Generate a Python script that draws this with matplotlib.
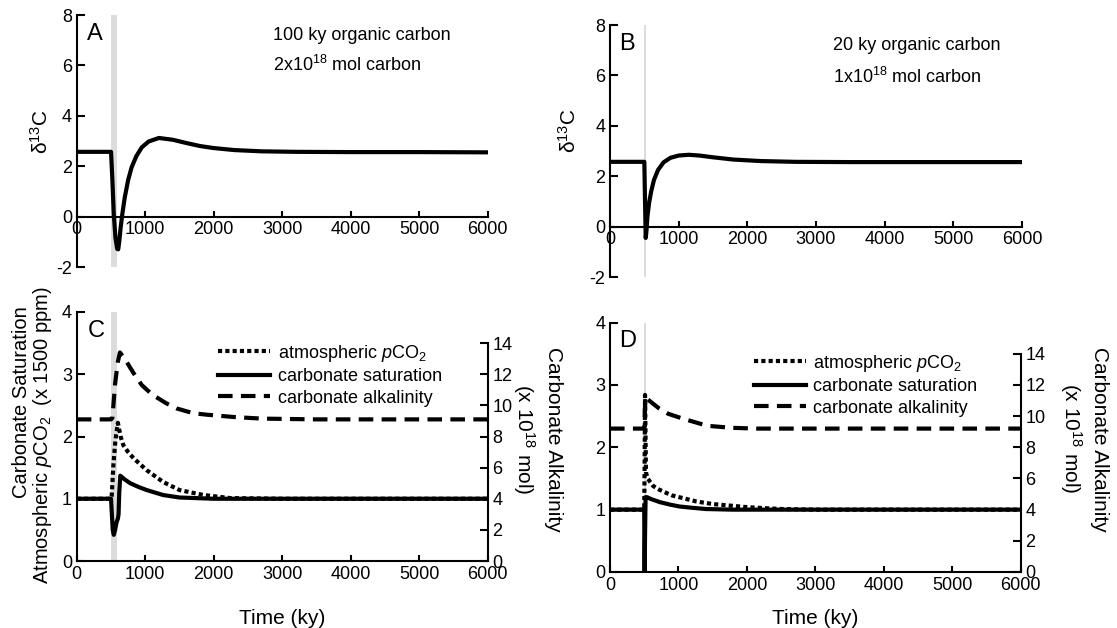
## Carbon isotope excursion and carbonate chemistry response, panels A-D

import numpy as np
import matplotlib
matplotlib.use('Agg')
import matplotlib.pyplot as plt

plt.rcParams['font.family'] = ['Liberation Sans', 'DejaVu Sans']
plt.rcParams['mathtext.fontset'] = 'custom'
plt.rcParams['mathtext.rm'] = 'Liberation Sans'
plt.rcParams['mathtext.it'] = 'Liberation Sans:italic'
plt.rcParams['mathtext.bf'] = 'Liberation Sans:bold'
plt.rcParams['axes.unicode_minus'] = False

# Data (time in ky)

# A: 100 ky organic carbon pulse, d13C
tA = [0, 500, 520, 540, 565, 590, 605, 620, 640, 665, 700, 750, 800, 870, 950,
      1050, 1200, 1400, 1600, 1800, 2000, 2300, 2700, 3200, 4000, 5000, 6000]
d13cA = [2.57, 2.57, 1.45, 0.1, -0.85, -1.28, -1.3, -1.0, -0.45, 0.1, 0.75, 1.45, 1.95, 2.4, 2.75,
         2.98, 3.12, 3.05, 2.92, 2.8, 2.72, 2.64, 2.59, 2.57, 2.56, 2.56, 2.55]

# B: 20 ky organic carbon pulse, d13C
tB = [0, 500, 510, 520, 530, 545, 570, 600, 640, 700, 780, 880, 1000, 1150,
      1300, 1500, 1800, 2200, 2700, 3500, 4500, 6000]
d13cB = [2.57, 2.57, 1.0, -0.45, -0.2, 0.4, 0.95, 1.4, 1.85, 2.25, 2.55, 2.73, 2.82, 2.85,
         2.82, 2.75, 2.66, 2.6, 2.57, 2.56, 2.56, 2.56]

# C: pCO2 (x 1500 ppm), carbonate saturation, alkalinity (x 1e18 mol)
tC_pco2 = [0, 500, 510, 535, 565, 600, 640, 680, 750, 830, 1020, 1260, 1500, 1850, 2250, 3000, 6000]
pco2C = [1.0, 1.0, 1.05, 1.55, 1.95, 2.22, 2.0, 1.86, 1.75, 1.65, 1.46, 1.27, 1.14, 1.06, 1.01, 1.0, 1.0]
tC_sat = [0, 500, 510, 525, 540, 560, 580, 600, 610, 620, 635, 700, 780, 900, 1020, 1260, 1500, 2000, 3000, 6000]
satC = [1.0, 1.0, 0.8, 0.5, 0.42, 0.5, 0.62, 0.68, 0.75, 1.1, 1.37, 1.31, 1.25, 1.19, 1.14, 1.06, 1.02, 1.0, 1.0, 1.0]
tC_alk = [0, 500, 520, 560, 600, 630, 700, 825, 950, 1100, 1300, 1460, 1700, 1900, 2300, 2700, 3500, 6000]
alkC = [9.1, 9.1, 9.2, 11.4, 12.8, 13.4, 13.0, 12.1, 11.3, 10.7, 10.15, 9.8, 9.5, 9.4, 9.25, 9.15, 9.1, 9.1]

# D: same for the 20 ky pulse
tD_pco2 = [0, 500, 505, 512, 518, 525, 550, 630, 720, 900, 1085, 1265, 1500, 1700, 2000, 2500, 3000, 6000]
pco2D = [1.0, 1.0, 1.6, 2.84, 2.3, 1.6, 1.5, 1.38, 1.32, 1.23, 1.18, 1.13, 1.09, 1.07, 1.04, 1.01, 1.0, 1.0]
tD_sat = [0, 500, 503, 506, 512, 520, 540, 600, 730, 880, 1020, 1200, 1400, 1800, 3000, 6000]
satD = [1.0, 1.0, 0.3, 0.0, 0.6, 1.2, 1.2, 1.17, 1.12, 1.08, 1.05, 1.03, 1.01, 1.0, 1.0, 1.0]
tD_alk = [0, 500, 510, 520, 600, 715, 850, 1070, 1250, 1420, 1780, 2140, 3000, 6000]
alkD = [9.2, 9.2, 10.5, 11.2, 10.9, 10.5, 10.15, 9.83, 9.6, 9.38, 9.25, 9.2, 9.2, 9.2]

# forcing windows
pulseA = (505, 590)
pulseB = (500, 520)

xticks = np.arange(0, 6001, 1000)
legend_labels = ['atmospheric $\\mathit{p}$CO$_2$', 'carbonate saturation', 'carbonate alkalinity']

W, H = 1117, 628
fig = plt.figure(figsize=(W / 100, H / 100), dpi=100)


def box(l, t, r, b):
    return [l / W, 1 - b / H, (r - l) / W, (b - t) / H]


def fxy(x, y):
    return x / W, 1 - y / H


axA = fig.add_axes(box(76.8, 15, 487.5, 267))
axB = fig.add_axes(box(610, 25, 1022, 277))
axC = fig.add_axes(box(76.8, 312, 487.5, 561))
axD = fig.add_axes(box(610, 322.6, 1020.7, 572))

lw = 3
dotted = (0, (1, 0.75))
dashed = (0, (3.5, 2))


def style(ax, ylim, yticks):
    ax.set_xlim(0, 6000)
    ax.set_ylim(*ylim)
    ax.set_xticks(xticks)
    ax.set_yticks(yticks)
    for s in ['top', 'right']:
        ax.spines[s].set_visible(False)
    for s in ['left', 'bottom']:
        ax.spines[s].set_linewidth(1.5)
    ax.tick_params(direction='in', labelsize=13, width=1.5)
    ax.tick_params(axis='y', length=6)
    ax.tick_params(axis='x', length=4)


# top row
for ax, t, v, pulse in [(axA, tA, d13cA, pulseA), (axB, tB, d13cB, pulseB)]:
    style(ax, (-2, 8), np.arange(-2, 9, 2))
    ax.spines['bottom'].set_position(('data', 0))
    ax.axvspan(*pulse, color='#dcdcdc', lw=0, zorder=0)
    ax.plot(t, v, color='k', lw=lw)
    ax.set_ylabel('δ$^{13}$C', fontsize=15)

axA.yaxis.set_label_coords(-0.061, 0.536)
axB.yaxis.set_label_coords(-0.073, 0.579)

fig.text(*fxy(273, 35), '100 ky organic carbon', fontsize=13, va='center')
fig.text(*fxy(273, 65), '2x10$^{18}$ mol carbon', fontsize=13, va='center')
fig.text(*fxy(833, 46), '20 ky organic carbon', fontsize=13, va='center')
fig.text(*fxy(833, 77), '1x10$^{18}$ mol carbon', fontsize=13, va='center')

# bottom row
panels = [(axC, tC_pco2, pco2C, tC_sat, satC, tC_alk, alkC, pulseA, (0.344, 0.877), 19),
          (axD, tD_pco2, pco2D, tD_sat, satD, tD_alk, alkD, pulseB, (0.35, 0.879), 11)]
for ax, tp, p, ts, s, ta, a, pulse, anchor, lpad in panels:
    style(ax, (0, 4), np.arange(0, 5, 1))
    ax.axvspan(*pulse, color='#dcdcdc', lw=0, zorder=0)
    lp, = ax.plot(tp, p, color='k', lw=lw, linestyle=dotted, dash_capstyle='butt')
    ls, = ax.plot(ts, s, color='k', lw=lw)
    ax.set_xlabel('Time (ky)', fontsize=15, labelpad=lpad)

    ax2 = ax.twinx()
    ax2.set_ylim(0, 16)
    ax2.set_yticks(np.arange(0, 15, 2))
    for sp in ['top', 'left', 'bottom']:
        ax2.spines[sp].set_visible(False)
    ax2.spines['right'].set_linewidth(1.5)
    ax2.spines['right'].set_bounds(0, 14)
    ax2.tick_params(direction='in', labelsize=13, width=1.5, length=6)
    la, = ax2.plot(ta, a, color='k', lw=lw, linestyle=dashed, dash_capstyle='butt')

    ax2.legend([lp, ls, la], legend_labels, loc='upper left', bbox_to_anchor=anchor,
               frameon=False, fontsize=13, handlelength=2.9, handletextpad=0.4,
               labelspacing=0.25, borderpad=0, borderaxespad=0)

fig.text(*fxy(22, 402), 'Carbonate Saturation', rotation=90, fontsize=14.5, ha='center', va='center')
fig.text(*fxy(43, 435), 'Atmospheric $\\mathit{p}$CO$_2$  (x 1500 ppm)', rotation=90, fontsize=14.5,
         ha='center', va='center')
fig.text(*fxy(553, 439), 'Carbonate Alkalinity', rotation=-90, fontsize=15, ha='center', va='center')
fig.text(*fxy(524, 439), '(x 10$^{18}$ mol)', rotation=-90, fontsize=15, ha='center', va='center')
fig.text(*fxy(1100, 439), 'Carbonate Alkalinity', rotation=-90, fontsize=15, ha='center', va='center')
fig.text(*fxy(1071, 438), '(x 10$^{18}$ mol)', rotation=-90, fontsize=15, ha='center', va='center')

# panel letters
for x, y, s in [(87, 34.5, 'A'), (619, 44, 'B'), (88, 331, 'C'), (619, 341, 'D')]:
    fig.text(*fxy(x, y), s, fontsize=17, va='center')

plt.savefig('out.png', dpi=100)
